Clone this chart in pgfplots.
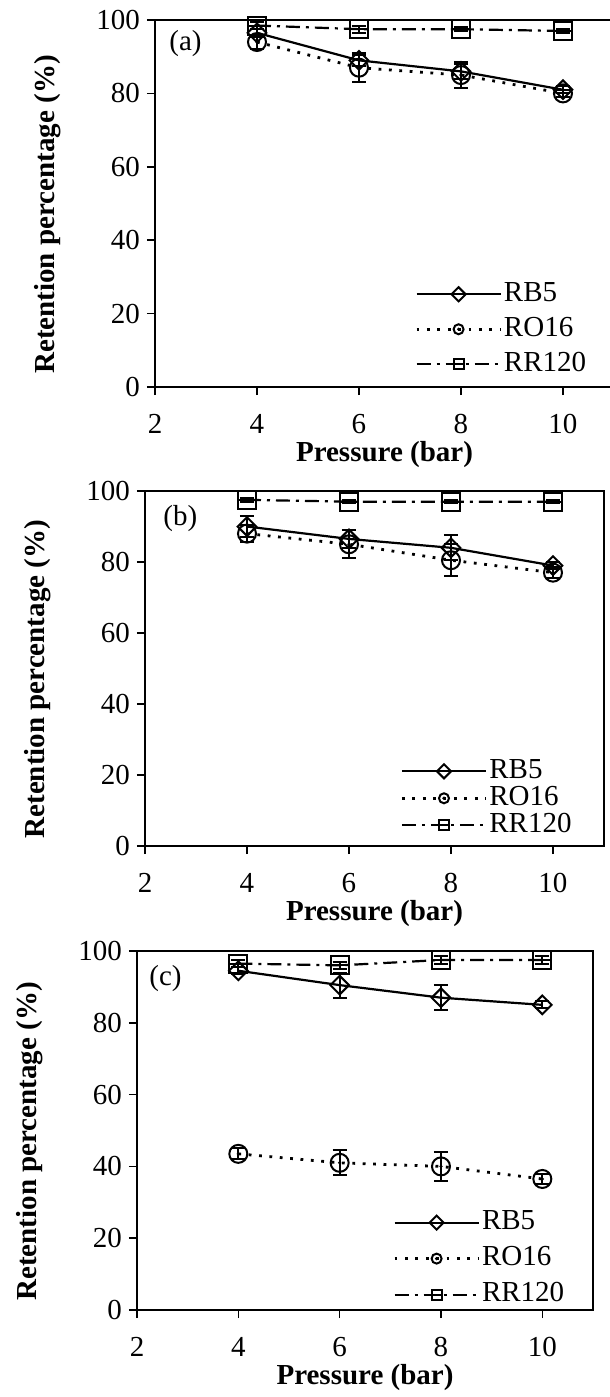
\documentclass[border=0pt]{standalone}
\usepackage{fontspec}
\setmainfont{Liberation Serif}
\usepackage{pgfplots}
\pgfplotsset{compat=1.18}

% circle with a centre dot, square with a bar
\pgfdeclareplotmark{odot}{%
  \pgfpathcircle{\pgfpointorigin}{\pgfplotmarksize}\pgfusepathqstroke
  \pgfpathcircle{\pgfpointorigin}{0.9pt}\pgfusepathqfill}
\pgfdeclareplotmark{sqminus}{%
  \pgfpathrectangle{\pgfqpoint{-\pgfplotmarksize}{-\pgfplotmarksize}}{\pgfqpoint{2\pgfplotmarksize}{2\pgfplotmarksize}}%
  \pgfpathmoveto{\pgfqpoint{-\pgfplotmarksize}{0pt}}\pgfpathlineto{\pgfqpoint{\pgfplotmarksize}{0pt}}%
  \pgfusepathqstroke}

\newcommand{\fs}{\fontsize{14.5}{17}\selectfont}

\pgfplotsset{
  panel/.style={
    scale only axis, anchor=north west,
    xmin=2, xmax=11, ymin=0, ymax=100,
    xtick={2,4,...,10}, ytick={0,20,...,100},
    tick align=outside, xtick pos=bottom, ytick pos=left, major tick length=4pt,
    axis line style={line width=1.1pt}, every tick/.style={black, line width=0.8pt},
    tick label style={font=\fs},
    /pgf/number format/assume math mode=true,
    xticklabel shift=6pt,
    xlabel={Pressure (bar)}, ylabel={Retention percentage (\%)},
    every axis y label/.style={at={(rel axis cs:0,0.47)}, xshift=-53.5pt, rotate=90,
      anchor=center, font=\fs\bfseries},
    every axis x label/.style={at={(rel axis cs:0.5,0)}, yshift=-34pt, anchor=center,
      font=\fs\bfseries},
    clip=false,
    legend cell align=left,
    legend style={draw=none, fill=none, anchor=south west, font=\fs, inner sep=0pt,
      nodes={inner sep=1pt, text height=10pt, text depth=3pt}},
    legend image code/.code={\draw[mark repeat=2, mark phase=2, #1, mark size=2.5pt]
      plot coordinates {(0pt,0pt) (21pt,0pt) (42pt,0pt)};},
  },
  rb/.style={black, line width=1.1pt, mark=square, mark size=3.3pt,
    mark options={rotate=45, solid, line width=1pt},
    error bars/.cd, y dir=both, y explicit,
    error mark options={rotate=90, mark size=3.5pt, line width=1pt, solid},
    error bar style={solid, line width=1pt}},
  ro/.style={black, line width=1.4pt, dash pattern=on 1.4pt off 3.8pt, mark=odot, mark size=4.5pt,
    mark options={solid, line width=1pt},
    error bars/.cd, y dir=both, y explicit,
    error mark options={rotate=90, mark size=3.5pt, line width=1pt, solid},
    error bar style={solid, line width=1pt}},
  rr/.style={black, line width=1.1pt, dash pattern=on 7pt off 3pt on 1.5pt off 3pt, mark=sqminus, mark size=4.5pt,
    mark options={solid, line width=1pt},
    error bars/.cd, y dir=both, y explicit,
    error mark options={rotate=90, mark size=3.5pt, line width=1pt, solid},
    error bar style={solid, line width=1pt}},
}

\begin{document}
\begin{tikzpicture}
\useasboundingbox (0pt,0pt) rectangle (305pt,-698.5pt);

% (a)
\begin{axis}[panel, at={(77.5pt,-10pt)}, width=229.5pt, height=183.5pt,
  legend style={at={(0.566,0.02)}, row sep=2.5pt}]
\addplot[rb] coordinates {(4,96.5) +- (0,1) (6,89) +- (0,1.5) (8,86) +- (0,2) (10,81) +- (0,1)};
\addplot[ro] coordinates {(4,94) +- (0,2) (6,87) +- (0,4) (8,85) +- (0,3.5) (10,80) +- (0,1)};
\addplot[rr] coordinates {(4,98.5) +- (0,1) (6,97.5) +- (0,1) (8,97.5) +- (0,0.5) (10,97) +- (0,0.5)};
\legend{RB5,RO16,RR120}
\node[anchor=north west, font=\fs, inner sep=0pt, xshift=7pt, yshift=-5pt] at (rel axis cs:0,1) {(a)};
\end{axis}

% (b)
\begin{axis}[panel, at={(72.5pt,-245.5pt)}, width=229.5pt, height=177.5pt,
  legend style={at={(0.556,0.015)}, row sep=-1.5pt}]
\addplot[rb] coordinates {(4,90) +- (0,3) (6,86.5) +- (0,2.5) (8,84) +- (0,3.5) (10,79) +- (0,1)};
\addplot[ro] coordinates {(4,88) +- (0,2.5) (6,85) +- (0,4) (8,80.5) +- (0,4.5) (10,77) +- (0,1.5)};
\addplot[rr] coordinates {(4,97.5) +- (0,0.5) (6,97) +- (0,0.5) (8,97) +- (0,0.5) (10,97) +- (0,0.5)};
\legend{RB5,RO16,RR120}
\node[anchor=north west, font=\fs, inner sep=0pt, xshift=9pt, yshift=-7pt] at (rel axis cs:0,1) {(b)};
\end{axis}

% (c)
\begin{axis}[panel, at={(68.5pt,-475.5pt)}, width=228pt, height=179.5pt,
  legend style={at={(0.561,0.0)}, row sep=3pt}]
\addplot[rb] coordinates {(4,94.5) +- (0,1) (6,90.5) +- (0,3.5) (8,87) +- (0,3.5) (10,85) +- (0,1)};
\addplot[ro] coordinates {(4,43.5) +- (0,1.5) (6,41) +- (0,3.5) (8,40) +- (0,4) (10,36.5) +- (0,1.5)};
\addplot[rr] coordinates {(4,96.5) +- (0,1) (6,96) +- (0,1) (8,97.5) +- (0,1) (10,97.5) +- (0,1)};
\legend{RB5,RO16,RR120}
\node[anchor=north west, font=\fs, inner sep=0pt, xshift=6pt, yshift=-7pt] at (rel axis cs:0,1) {(c)};
\end{axis}
\end{tikzpicture}
\end{document}
